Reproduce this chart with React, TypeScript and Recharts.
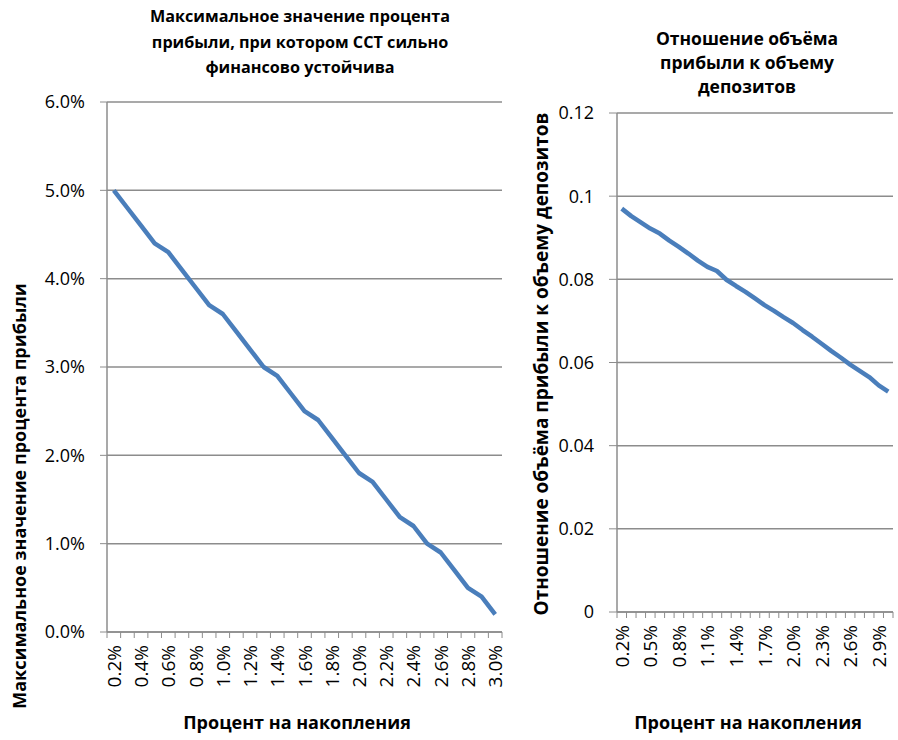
import { LineChart, Line, XAxis, YAxis, CartesianGrid } from "recharts";

// x categories: accumulation rate, 0.2% .. 3.0%
const rates = [
  "0.2%", "0.3%", "0.4%", "0.5%", "0.6%", "0.7%", "0.8%", "0.9%", "1.0%", "1.1%",
  "1.2%", "1.3%", "1.4%", "1.5%", "1.6%", "1.7%", "1.8%", "1.9%", "2.0%", "2.1%",
  "2.2%", "2.3%", "2.4%", "2.5%", "2.6%", "2.7%", "2.8%", "2.9%", "3.0%",
];

// max profit rate (in %) keeping the fund strongly stable
const maxProfit = [
  5.0, 4.8, 4.6, 4.4, 4.3, 4.1, 3.9, 3.7, 3.6, 3.4,
  3.2, 3.0, 2.9, 2.7, 2.5, 2.4, 2.2, 2.0, 1.8, 1.7,
  1.5, 1.3, 1.2, 1.0, 0.9, 0.7, 0.5, 0.4, 0.2,
];

// profit volume / deposit volume
const profitToDeposits = [
  0.097, 0.0952, 0.0937, 0.0922, 0.091, 0.0893, 0.0878, 0.0862, 0.0845, 0.083,
  0.082, 0.0799, 0.0784, 0.077, 0.0754, 0.0738, 0.0724, 0.0709, 0.0695, 0.0678,
  0.0662, 0.0645, 0.0628, 0.0612, 0.0595, 0.058, 0.0565, 0.0545, 0.053,
];

const leftTicks = [0, 1, 2, 3, 4, 5, 6];
const rightTicks = [0, 0.02, 0.04, 0.06, 0.08, 0.1, 0.12];

const leftData = rates.map((r, i) => ({ rate: r, value: maxProfit[i] }));
const rightData = rates.map((r, i) => ({ rate: r, value: profitToDeposits[i] }));

const GRID = "#8c8c8c";
const LINE = "#4a7ebb";
const FONT = "'Open Sans', sans-serif";

// category tick: marks sit on category boundaries, labels every n-th category
function makeTick(every: number, half: number, count: number) {
  return (props: any) => {
    const { x, y, payload, index } = props;
    const ly = y + 13;
    return (
      <g>
        <line x1={x - half} x2={x - half} y1={y} y2={y + 6} stroke={GRID} />
        {index === count - 1 && (
          <line x1={x + half} x2={x + half} y1={y} y2={y + 6} stroke={GRID} />
        )}
        {index % every === 0 && (
          <text
            x={x}
            y={ly}
            transform={`rotate(-90, ${x}, ${ly})`}
            textAnchor="end"
            dominantBaseline="central"
            fill="#000"
            fontSize={19}
            fontFamily={FONT}
          >
            {payload.value}
          </text>
        )}
      </g>
    );
  };
}

const boxStyle: React.CSSProperties = {
  position: "absolute",
  fontFamily: FONT,
  fontWeight: 700,
  color: "#000",
  textAlign: "center",
  whiteSpace: "nowrap",
};

export default function App() {
  const leftHalf = (502 - 107) / rates.length / 2;
  const rightHalf = (893 - 617) / rates.length / 2;

  return (
    <div style={{ position: "absolute", left: 0, top: 0, width: 898, height: 740, background: "#fff" }}>
      {/* left chart */}
      <div style={{ position: "absolute", left: 0, top: 0 }}>
        <LineChart width={520} height={740} data={leftData} margin={{ top: 102, right: 18, bottom: 0, left: 37 }}>
          <CartesianGrid vertical={false} stroke={GRID} strokeWidth={1.5} />
          <XAxis
            dataKey="rate"
            interval={0}
            height={108}
            padding={{ left: leftHalf, right: leftHalf }}
            axisLine={{ stroke: GRID, strokeWidth: 1.5 }}
            tickLine={false}
            tickSize={0}
            tickMargin={0}
            tick={makeTick(2, leftHalf, rates.length)}
          />
          <YAxis
            width={70}
            domain={[0, 6]}
            ticks={leftTicks}
            tickFormatter={(v: number) => `${v.toFixed(1)}%`}
            axisLine={{ stroke: GRID, strokeWidth: 1.5 }}
            tickLine={{ stroke: GRID }}
            tickSize={7}
            tickMargin={15}
            tick={{ fill: "#000", fontSize: 18, fontFamily: FONT }}
          />
          <Line
            type="linear"
            dataKey="value"
            stroke={LINE}
            strokeWidth={4.5}
            strokeLinejoin="round"
            dot={false}
            isAnimationActive={false}
          />
        </LineChart>
      </div>

      {/* right chart */}
      <div style={{ position: "absolute", left: 520, top: 0 }}>
        <LineChart width={378} height={740} data={rightData} margin={{ top: 113, right: 5, bottom: 0, left: 27 }}>
          <CartesianGrid vertical={false} stroke={GRID} strokeWidth={1.5} />
          <XAxis
            dataKey="rate"
            interval={0}
            height={128}
            padding={{ left: rightHalf, right: rightHalf }}
            axisLine={{ stroke: GRID, strokeWidth: 1.5 }}
            tickLine={false}
            tickSize={0}
            tickMargin={0}
            tick={makeTick(3, rightHalf, rates.length)}
          />
          <YAxis
            width={70}
            domain={[0, 0.12]}
            ticks={rightTicks}
            tickFormatter={(v: number) => String(parseFloat(v.toFixed(2)))}
            axisLine={{ stroke: GRID, strokeWidth: 1.5 }}
            tickLine={{ stroke: GRID }}
            tickSize={8}
            tickMargin={15}
            tick={{ fill: "#000", fontSize: 18, fontFamily: FONT }}
          />
          <Line
            type="linear"
            dataKey="value"
            stroke={LINE}
            strokeWidth={4.5}
            strokeLinejoin="round"
            dot={false}
            isAnimationActive={false}
          />
        </LineChart>
      </div>

      {/* titles */}
      <div style={{ ...boxStyle, left: 300, top: 4, transform: "translateX(-50%)", fontSize: 16.2, lineHeight: "25.5px" }}>
        Максимальное значение процента
        <br />
        прибыли, при котором ССТ сильно
        <br />
        финансово устойчива
      </div>
      <div style={{ ...boxStyle, left: 747, top: 26, transform: "translateX(-50%)", fontSize: 17.5, lineHeight: "24px" }}>
        Отношение объёма
        <br />
        прибыли к объему
        <br />
        депозитов
      </div>

      {/* axis titles */}
      <div style={{ ...boxStyle, left: 19, top: 496, transform: "translate(-50%, -50%) rotate(-90deg)", fontSize: 18 }}>
        Максимальное значение процента прибыли
      </div>
      <div style={{ ...boxStyle, left: 541, top: 364, transform: "translate(-50%, -50%) rotate(-90deg)", fontSize: 19 }}>
        Отношение объёма прибыли к объему депозитов
      </div>
      <div style={{ ...boxStyle, left: 297, top: 722, transform: "translate(-50%, -50%)", fontSize: 18 }}>
        Процент на накопления
      </div>
      <div style={{ ...boxStyle, left: 748, top: 722, transform: "translate(-50%, -50%)", fontSize: 18 }}>
        Процент на накопления
      </div>
    </div>
  );
}
